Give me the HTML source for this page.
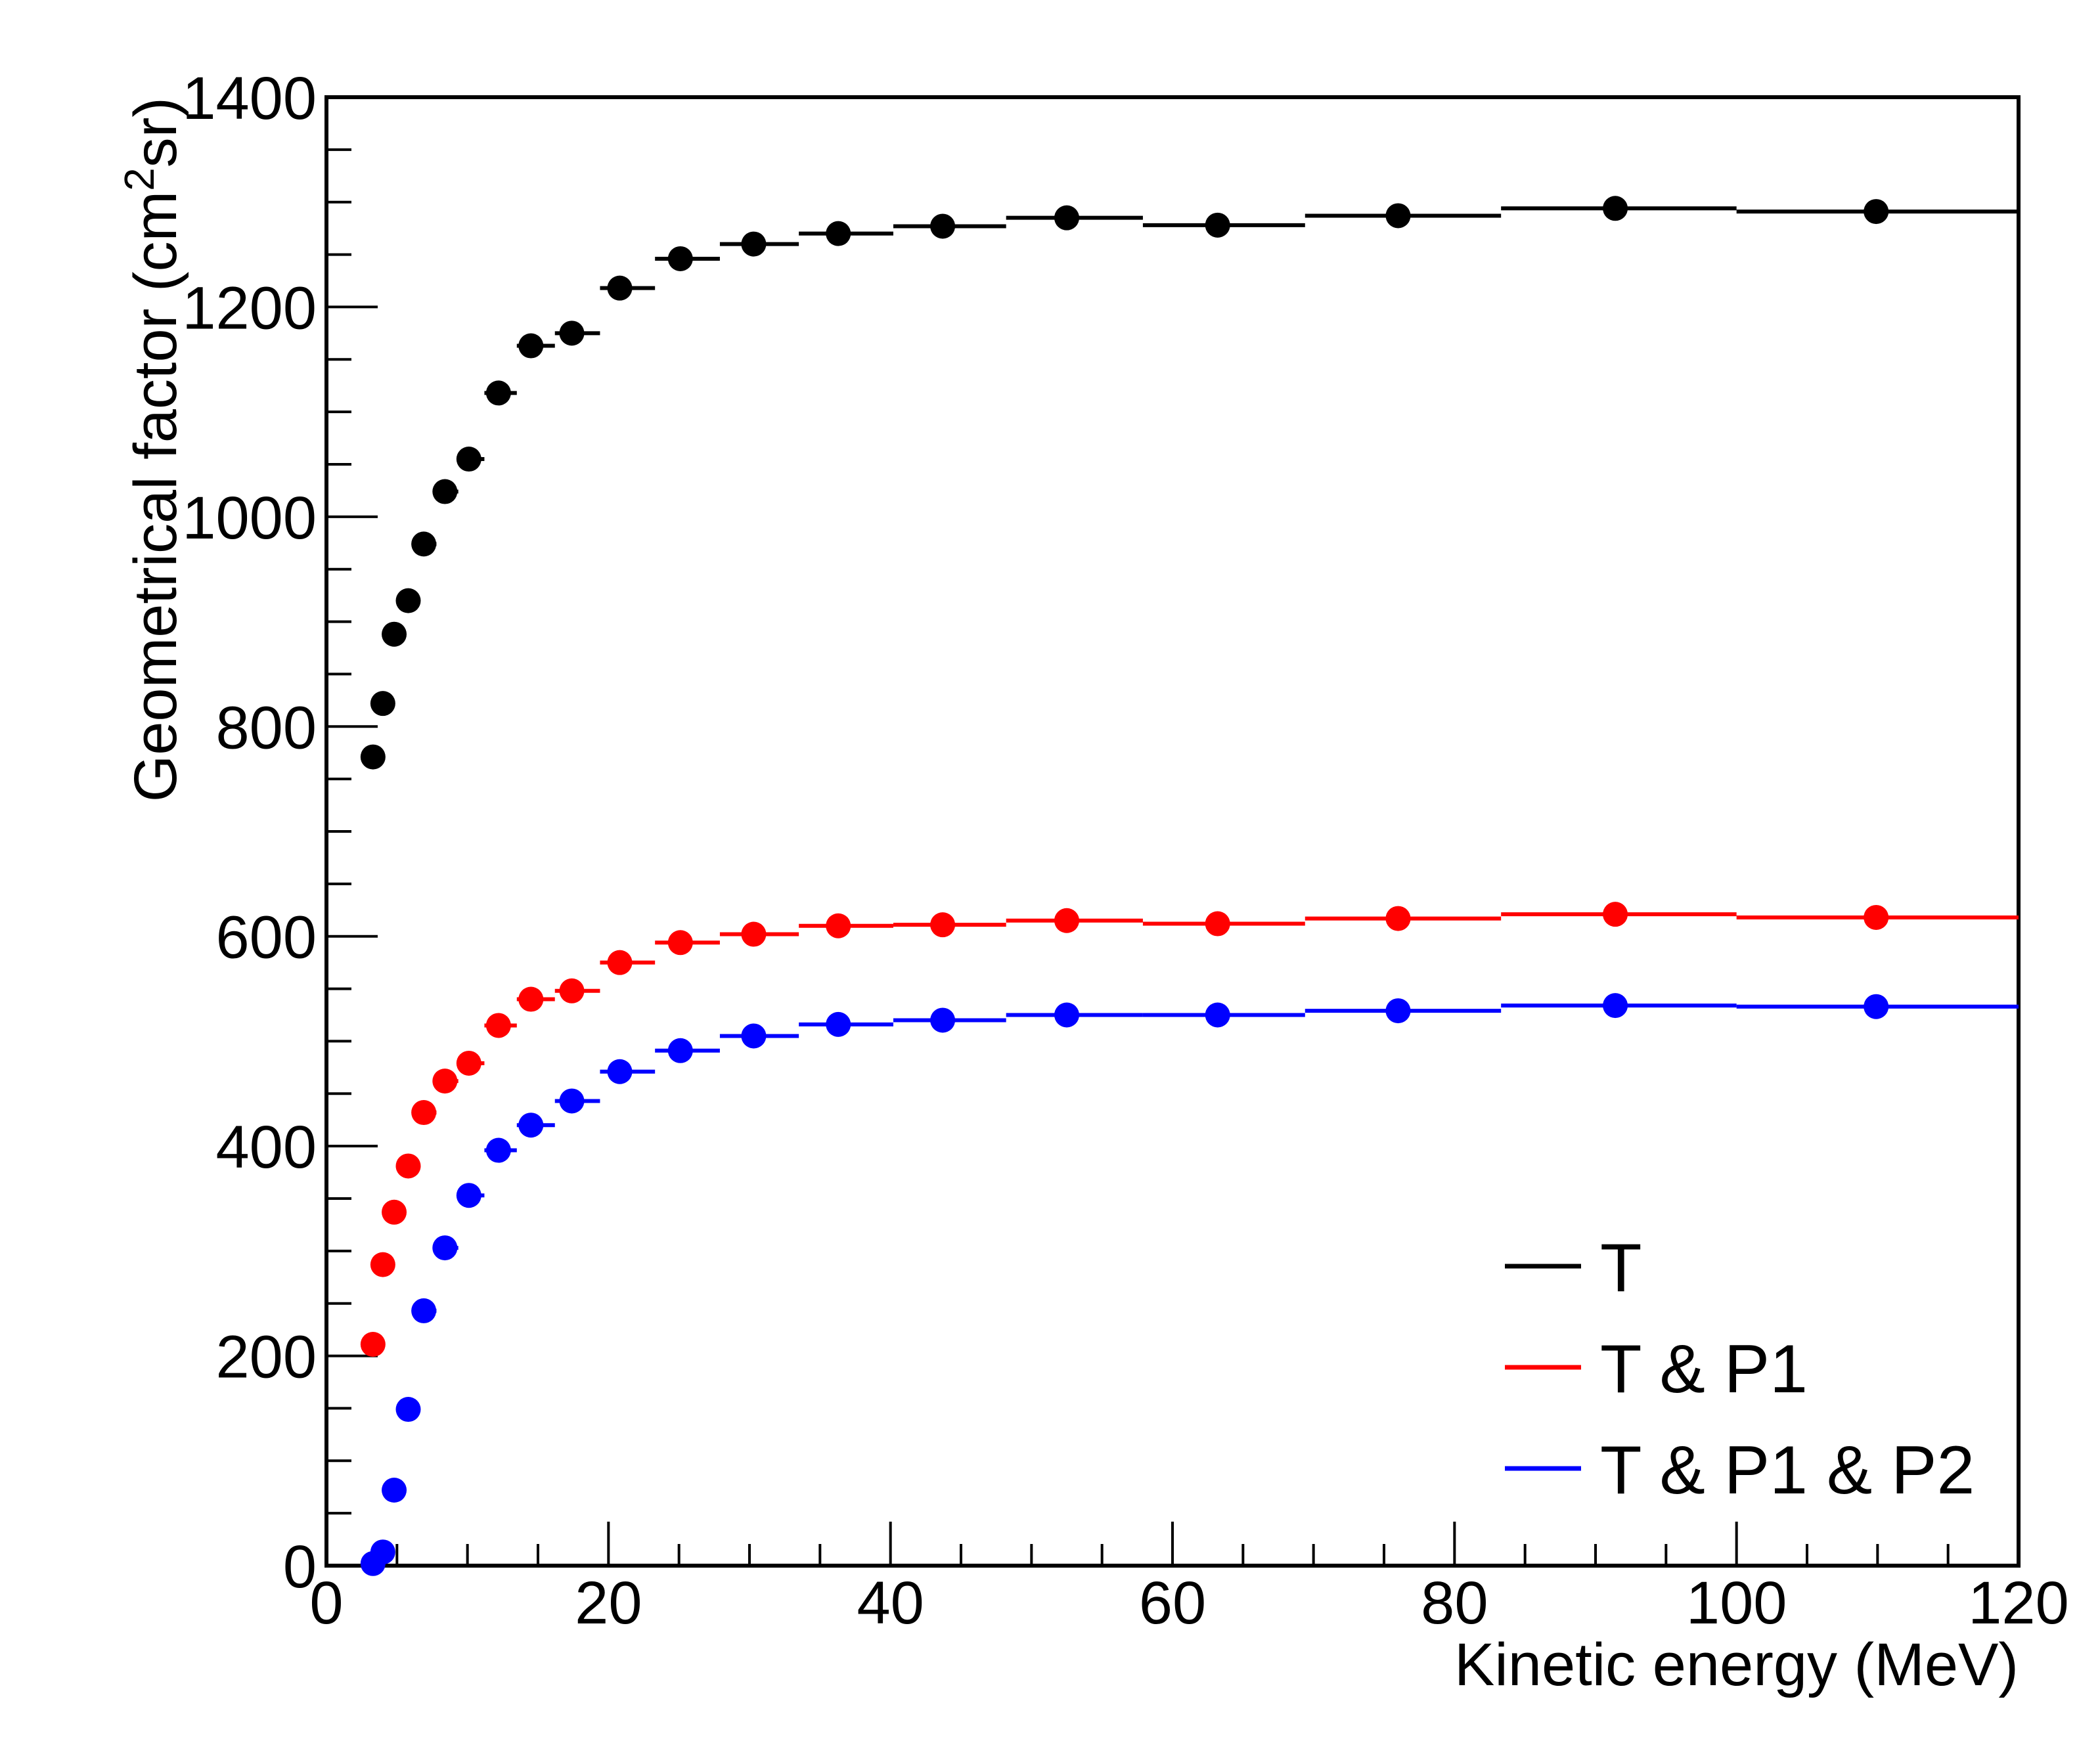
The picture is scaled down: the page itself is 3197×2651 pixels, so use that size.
<!DOCTYPE html>
<html><head><meta charset="utf-8"><style>
html,body{margin:0;padding:0;background:#fff;}
svg{display:block;font-family:"Liberation Sans",sans-serif;}
</style></head><body>
<svg id="chart" width="3197" height="2651" viewBox="0 0 3197 2651" xmlns="http://www.w3.org/2000/svg">
<g id="axes"></g>
<g id="series"></g>
<g id="legend"></g>
</svg>
<script>
const binEdges = [3.13,3.76,4.5,5.4,6.5,7.8,9.35,11.2,13.5,16.2,19.4,23.3,27.9,33.5,40.2,48.2,57.9,69.4,83.3,100,120];
const energies = [3.3,4,4.8,5.8,6.9,8.4,10.1,12.2,14.5,17.4,20.8,25.1,30.3,36.3,43.7,52.5,63.2,76,91.4,109.9];
const seriesT = [771,822,888,920,974,1024,1055,1118,1163,1175,1218,1246,1260,1270,1277,1285,1278,1287,1294,1291];
const seriesTP1 = [211,287,337,381,432,462,479,515,540,548,575,594,602,610,611,615,612,617,621,618];
const seriesTP1P2 = [2,13,72,149,243,303,353,396,420,443,471,491,505,516,520,525,525,529,534,533];
const xTicks = [0,20,40,60,80,100,120];
const yTicks = [0,200,400,600,800,1000,1200,1400];
const legendLabels = ["T","T & P1","T & P1 & P2"];
const colors = ["#000000","#ff0000","#0000ff"];

const X0=497,X1=3073,Y0=2384,Y1=148;
const sx=v=>X0+(v-0)/(120-0)*(X1-X0);
const sy=v=>Y0-(v-0)/(1400-0)*(Y0-Y1);
const NS="http://www.w3.org/2000/svg";
function mk(tag,attrs,parent){const e=document.createElementNS(NS,tag);for(const k in attrs)e.setAttribute(k,attrs[k]);parent.appendChild(e);return e;}
const axes=document.getElementById('axes'),ser=document.getElementById('series'),leg=document.getElementById('legend');

let fr=mk('rect',{x:X0,y:Y1,width:X1-X0,height:Y0-Y1,fill:'none',stroke:'#000','stroke-width':6},axes);


for(let v=0;v<=120;v+=5){
  const maj=v%20===0;
  const t=mk('line',{x1:sx(v),x2:sx(v),y1:Y0,y2:Y0-(maj?67:33),stroke:'#000','stroke-width':4},axes);
  
  
}
xTicks.forEach(v=>{
  const t=mk('text',{x:sx(v),y:2472,'font-size':92,'text-anchor':'middle'},axes);t.textContent=v;
  
  
});
for(let v=0;v<=1400;v+=50){
  const maj=v%200===0;
  const t=mk('line',{x1:X0,x2:X0+(maj?78:38),y1:sy(v),y2:sy(v),stroke:'#000','stroke-width':4},axes);
  
  
}
yTicks.forEach(v=>{
  const t=mk('text',{x:482,y:sy(v)+33,'font-size':92,'text-anchor':'end'},axes);t.textContent=v;
  
  
});
const xt=mk('text',{x:X1,y:2566,'font-size':92,'text-anchor':'end'},axes);xt.textContent='Kinetic energy (MeV)';


const yt=mk('text',{x:0,y:0,'font-size':92,'text-anchor':'end',transform:'translate(268,148) rotate(-90)'},axes);
yt.innerHTML='Geometrical factor (cm<tspan dy="-34" font-size="64">2</tspan><tspan dy="34">sr)</tspan>';



[seriesT,seriesTP1,seriesTP1P2].forEach((s,si)=>{
  const g=mk('g',{},ser);
  
  
  s.forEach((v,i)=>{
    const l=mk('line',{x1:sx(binEdges[i]),x2:sx(binEdges[i+1]),y1:sy(v),y2:sy(v),stroke:colors[si],'stroke-width':6},g);
    
    
    const c=mk('circle',{cx:sx(energies[i]),cy:sy(v),r:19,fill:colors[si]},g);
    
    
  });
});

legendLabels.forEach((lab,i)=>{
  const y=1928+i*154;
  const l=mk('line',{x1:2291,x2:2407,y1:y,y2:y,stroke:colors[i],'stroke-width':7},leg);
  
  
  const t=mk('text',{x:2436,y:y+38,'font-size':104},leg);t.textContent=lab;
  
  
});
</script>
</body></html>
